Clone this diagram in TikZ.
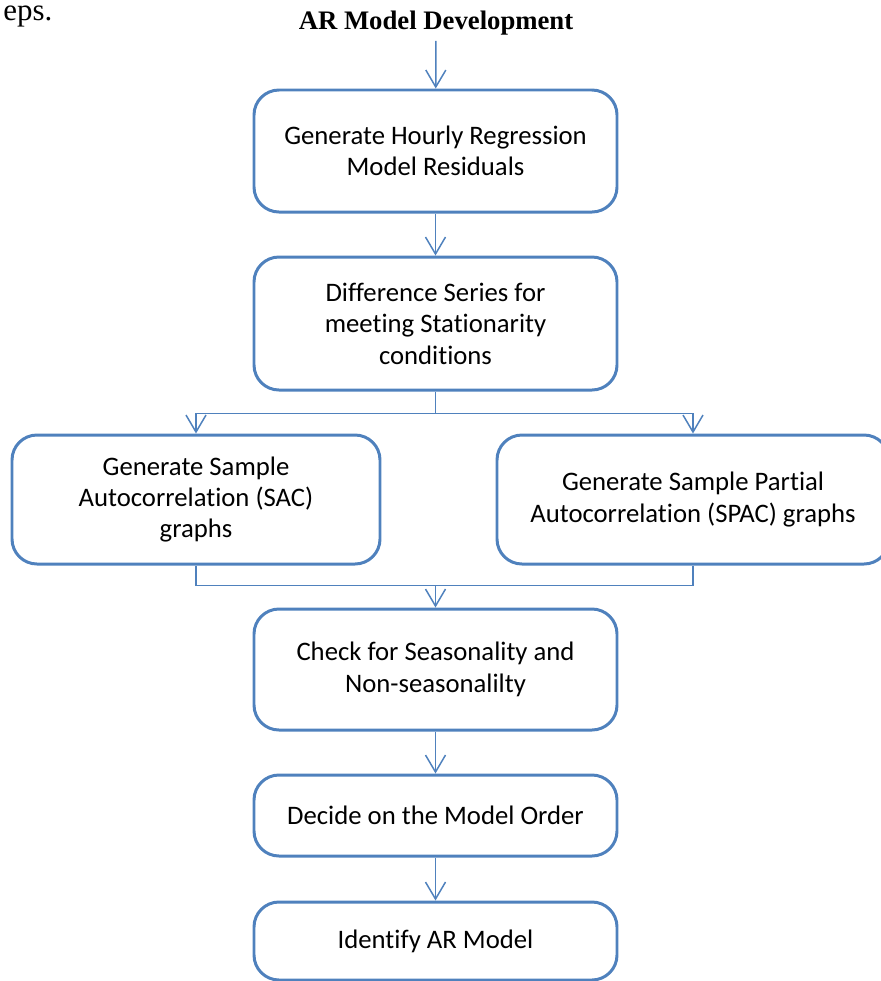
\documentclass[tikz,border=0pt]{standalone}
\usepackage{fontspec}
\setmainfont{Liberation Serif}
\newfontfamily\boxfont[Ligatures=NoCommon]{Carlito}
\usetikzlibrary{arrows.meta, positioning, calc}
\definecolor{flowblue}{RGB}{79,129,189}

\begin{document}
\begin{tikzpicture}[
        stepbox/.style={draw=flowblue, line width=1.7pt, rounded corners=0.5cm, align=center,
            minimum width=7.26cm, font=\boxfont\fontsize{15.2}{17.9}\selectfont},
        flow/.style={draw=flowblue, line width=0.85pt},
        arr/.style={flow, -{Straight Barb[length=0.34cm, width=0.4cm, line width=0.85pt]}}
    ]
        \useasboundingbox (0,0) rectangle (17.6,-19.62);
        
        \node[anchor=base west, inner sep=0pt, font=\fontsize{17.6}{20}\selectfont] (prev) at (0.06,-0.4) {eps.};
        \node[anchor=base, font=\fontsize{15.2}{18}\selectfont\bfseries] (title) at (8.72,-0.58) {AR Model Development};
        
        \node[stepbox, minimum height=2.44cm] (resid) at (8.71,-3.02) {Generate Hourly Regression\\Model Residuals};
        \node[stepbox, minimum height=2.66cm] (diff) at (8.71,-6.47) {Difference Series for\\meeting Stationarity\\conditions};
        \node[stepbox, minimum height=2.58cm, minimum width=7.36cm] (sac) at (3.92,-9.99) {Generate Sample\\Autocorrelation (SAC)\\graphs};
        \node[stepbox, minimum height=2.58cm, minimum width=7.84cm] (spac) at (13.86,-9.99) {Generate Sample Partial\\Autocorrelation (SPAC) graphs};
        \node[stepbox, minimum height=2.42cm] (check) at (8.71,-13.39) {Check for Seasonality and\\Non-seasonalilty};
        \node[stepbox, minimum height=1.62cm] (order) at (8.71,-16.31) {Decide on the Model Order};
        \node[stepbox, minimum height=1.56cm] (ident) at (8.71,-18.82) {Identify AR Model};
        
        \coordinate (split) at ($(diff.south)+(0,-0.44)$);
        \coordinate (merge) at ($(check.north)+(0,0.44)$);
        
        \draw[arr] (title) -- (resid);
        \draw[arr] (resid) -- (diff);
        \draw[flow] (diff.south) -- (split);
        \draw[arr] (split) -| (sac.north);
        \draw[arr] (split) -| (spac.north);
        \draw[flow] (sac.south) |- (merge);
        \draw[flow] (spac.south) |- (merge);
        \draw[arr] (merge) -- (check);
        \draw[arr] (check) -- (order);
        \draw[arr] (order) -- (ident);
    \end{tikzpicture}
\end{document}
